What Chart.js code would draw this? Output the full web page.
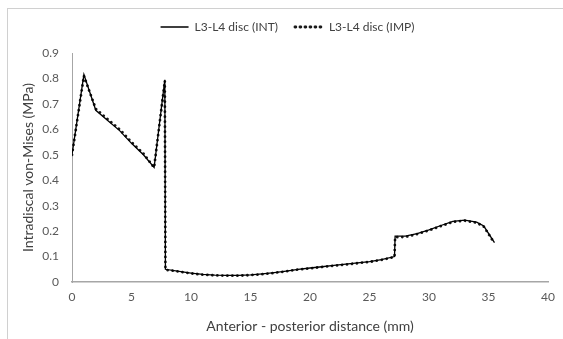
<!DOCTYPE html>
<html>
<head>
<meta charset="utf-8">
<script src="https://cdn.jsdelivr.net/npm/chart.js@4.4.1/dist/chart.umd.min.js"></script>
<style>
  html, body { margin: 0; padding: 0; background: #ffffff; }
  #wrap { position: relative; width: 563px; height: 339px; overflow: hidden; }
  #frame { position: absolute; left: 7px; top: 8px; width: 600px; height: 400px; border-left: 1px solid #d0d0d0; border-top: 1px solid #d0d0d0; }
  canvas { position: absolute; left: 0; top: 0; }
</style>
</head>
<body>
<div id="wrap">
  <div id="frame"></div>
  <canvas id="c" width="563" height="339"></canvas>
</div>
<script>
// Anterior-posterior distance (mm)
const xValues = [0, 1, 2, 3, 4, 5, 6, 6.9, 7.8, 7.85, 9, 10, 11, 12, 13, 14, 15, 16, 17, 18, 19, 20, 21, 22, 23, 24, 25, 26, 27.1, 27.15, 28, 29, 30, 31, 32, 33, 34, 34.6, 35.5];
// Intradiscal von-Mises (MPa)
const intValues = [0.50, 0.815, 0.675, 0.635, 0.595, 0.545, 0.50, 0.45, 0.795, 0.05, 0.042, 0.035, 0.03, 0.027, 0.026, 0.026, 0.028, 0.032, 0.037, 0.043, 0.05, 0.055, 0.06, 0.065, 0.07, 0.075, 0.08, 0.088, 0.10, 0.18, 0.18, 0.19, 0.205, 0.222, 0.238, 0.243, 0.235, 0.22, 0.155];
const impValues = [0.50, 0.81, 0.68, 0.64, 0.60, 0.55, 0.505, 0.45, 0.79, 0.048, 0.041, 0.034, 0.029, 0.026, 0.025, 0.025, 0.027, 0.031, 0.036, 0.042, 0.049, 0.054, 0.059, 0.064, 0.069, 0.074, 0.079, 0.087, 0.098, 0.176, 0.177, 0.188, 0.203, 0.22, 0.236, 0.241, 0.233, 0.218, 0.152];
const seriesNames = ['L3-L4 disc (INT)', 'L3-L4 disc (IMP)'];
const xTitle = 'Anterior - posterior distance (mm)';
const yTitle = 'Intradiscal von-Mises (MPa)';

const toPts = (ys) => xValues.map((x, i) => ({ x: x, y: ys[i] }));

const FONT = 'Lato, "Open Sans", sans-serif';

const legendSpacer = {
  id: 'legendSpacer',
  beforeInit(chart) {
    const origFit = chart.legend.fit;
    chart.legend.fit = function () {
      origFit.bind(chart.legend)();
      this.height += 10;
    };
  }
};

new Chart(document.getElementById('c'), {
  type: 'scatter',
  plugins: [legendSpacer],
  data: {
    datasets: [
      {
        label: seriesNames[0],
        data: toPts(intValues),
        showLine: true,
        borderColor: '#000000',
        backgroundColor: 'rgba(0,0,0,0)',
        borderWidth: 1.3,
        pointRadius: 0,
        tension: 0
      },
      {
        label: seriesNames[1],
        data: toPts(impValues),
        showLine: true,
        borderColor: '#1a1a1a',
        backgroundColor: 'rgba(0,0,0,0)',
        borderWidth: 2.8,
        borderDash: [0.01, 5],
        borderCapStyle: 'round',
        pointRadius: 0,
        tension: 0
      }
    ]
  },
  options: {
    responsive: false,
    animation: false,
    layout: { padding: { left: 16, right: 4, top: 4, bottom: 0 } },
    plugins: {
      legend: {
        display: true,
        position: 'top',
        labels: {
          boxWidth: 28,
          boxHeight: 0,
          color: '#404040',
          font: { family: FONT, size: 12 },
          padding: 17
        }
      },
      tooltip: { enabled: false }
    },
    scales: {
      x: {
        type: 'linear',
        min: 0,
        max: 40,
        ticks: { stepSize: 5, color: '#595959', font: { family: FONT, size: 12 }, padding: 8 },
        grid: { display: false, drawTicks: false },
        border: { display: true, color: '#a6a6a6', width: 1.5 },
        title: { display: true, text: xTitle, color: '#404040', font: { family: FONT, size: 14 }, padding: { top: 2 } },
        afterFit: (s) => { s.height = 57; }
      },
      y: {
        type: 'linear',
        min: 0,
        max: 0.9,
        ticks: {
          stepSize: 0.1,
          color: '#595959',
          font: { family: FONT, size: 12 },
          padding: 13,
          callback: (v) => (Math.round(v * 10) / 10).toString()
        },
        grid: { display: false, drawTicks: false },
        border: { display: true, color: '#a6a6a6', width: 1 },
        title: { display: true, text: yTitle, color: '#404040', font: { family: FONT, size: 14 }, padding: { bottom: 2 } },
        afterFit: (s) => { s.width = 56; }
      }
    }
  }
});
</script>
</body>
</html>
